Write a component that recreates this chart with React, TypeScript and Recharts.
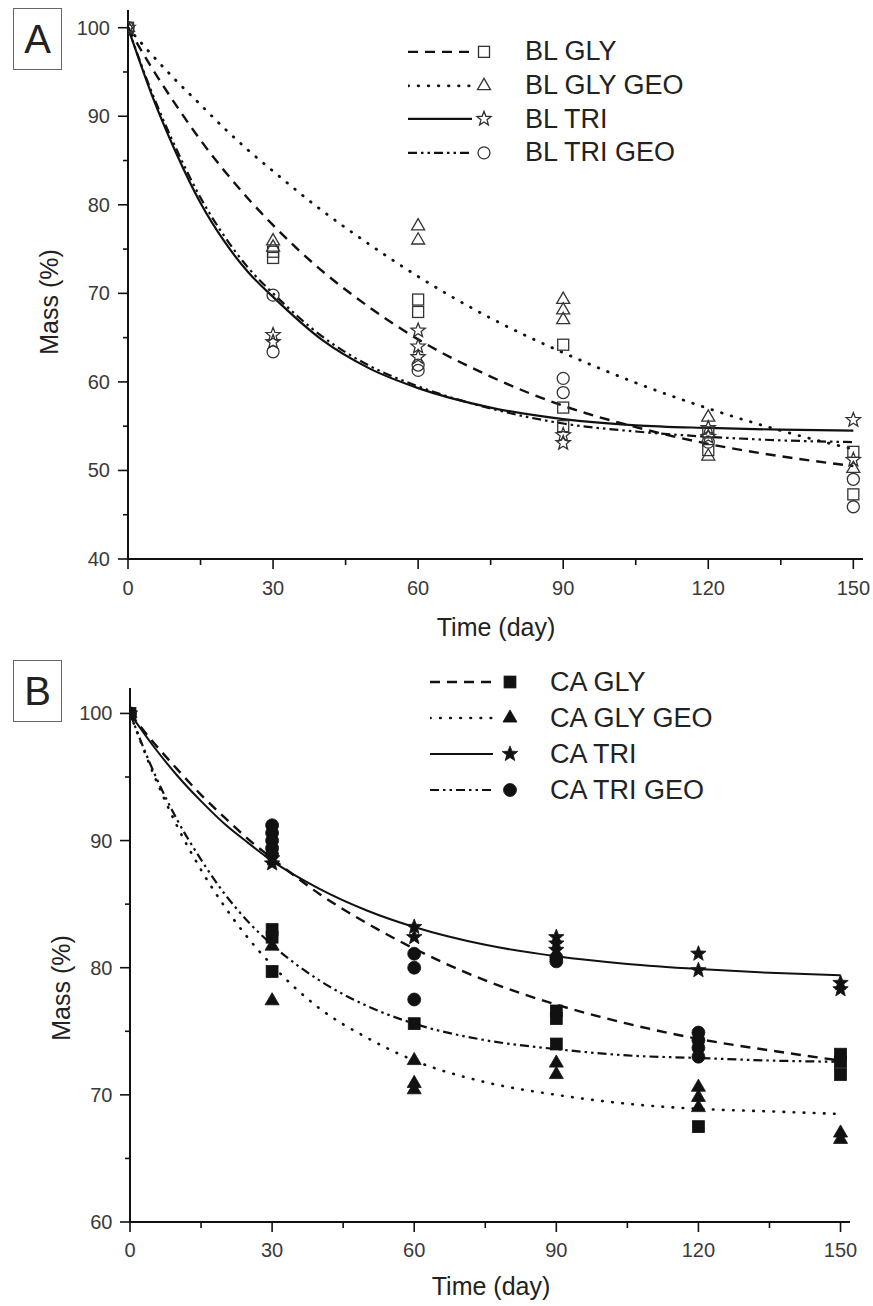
import React from "react";
import { ComposedChart, Line, Scatter, XAxis, YAxis, Legend } from "recharts";

const FONT = '"Liberation Sans", Arial, Helvetica, sans-serif';

const fitDays = [0, 5, 10, 15, 20, 25, 30, 40, 50, 60, 75, 90, 105, 120, 135, 150];

// panel A fitted curves (Mass %)
const blGlyFit = [100, 95.4, 91.2, 87.3, 83.8, 80.6, 77.7, 72.6, 68.4, 64.8, 60.6, 57.3, 54.9, 53.0, 51.6, 50.5];
const blGlyGeoFit = [100, 96.9, 94.0, 91.3, 88.6, 86.1, 83.8, 79.4, 75.5, 71.9, 67.2, 63.3, 59.9, 57.0, 54.5, 52.4];
const blTriFit = [100, 92.3, 85.8, 80.2, 75.8, 72.3, 69.6, 64.8, 61.5, 59.3, 57.1, 55.8, 55.1, 54.8, 54.6, 54.5];
const blTriGeoFit = [100, 92.6, 86.3, 80.8, 76.4, 72.8, 70.0, 65.2, 61.8, 59.5, 57.0, 55.3, 54.4, 53.8, 53.4, 53.2];

// panel A measured points [day, mass]
const blGlyPts = [[0, 100], [30, 74.7], [30, 74.0], [60, 69.3], [60, 67.9], [90, 64.2], [90, 57.1], [90, 55.0], [120, 54.3], [120, 52.3], [150, 52.1], [150, 47.3]];
const blGlyGeoPts = [[0, 100], [30, 75.9], [30, 75.2], [60, 77.6], [60, 76.0], [90, 69.3], [90, 68.1], [90, 67.0], [120, 56.0], [120, 51.6], [150, 50.2]];
const blTriPts = [[0, 100], [30, 65.3], [30, 64.5], [60, 65.8], [60, 64.0], [60, 62.8], [90, 54.0], [90, 53.1], [120, 54.8], [120, 53.8], [150, 55.7], [150, 51.2]];
const blTriGeoPts = [[0, 100], [30, 69.8], [30, 63.4], [60, 61.9], [60, 61.3], [90, 60.4], [90, 58.8], [120, 53.2], [150, 49.0], [150, 45.9]];

// panel B fitted curves
const caGlyFit = [100, 97.7, 95.6, 93.6, 91.8, 90.1, 88.6, 85.8, 83.5, 81.5, 79.0, 77.1, 75.6, 74.4, 73.5, 72.7];
const caGlyGeoFit = [100, 95.2, 91.1, 87.7, 84.8, 82.3, 80.2, 76.8, 74.5, 72.7, 71.0, 70.0, 69.3, 68.9, 68.7, 68.5];
const caTriFit = [100, 97.4, 95.1, 93.1, 91.3, 89.8, 88.4, 86.2, 84.5, 83.2, 81.8, 80.9, 80.3, 79.9, 79.6, 79.4];
const caTriGeoFit = [100, 95.4, 91.6, 88.5, 85.8, 83.6, 81.8, 79.0, 77.0, 75.6, 74.3, 73.6, 73.1, 72.9, 72.7, 72.6];

// panel B measured points
const caGlyPts = [[0, 100], [30, 83.0], [30, 82.4], [30, 79.7], [60, 75.6], [90, 76.6], [90, 76.0], [90, 74.0], [120, 67.5], [150, 73.2], [150, 72.6], [150, 71.6]];
const caGlyGeoPts = [[0, 100], [30, 81.7], [30, 77.4], [60, 72.7], [60, 70.9], [60, 70.4], [90, 72.5], [90, 71.6], [120, 70.6], [120, 69.8], [120, 69.0], [150, 67.0], [150, 66.5]];
const caTriPts = [[0, 100], [30, 88.6], [30, 88.2], [60, 83.2], [60, 82.4], [90, 82.4], [90, 81.9], [90, 81.4], [120, 81.1], [120, 79.8], [150, 78.8], [150, 78.3]];
const caTriGeoPts = [[0, 100], [30, 91.2], [30, 90.6], [30, 90.0], [30, 89.4], [30, 88.9], [60, 81.1], [60, 80.0], [60, 77.5], [90, 80.8], [90, 80.5], [120, 74.9], [120, 74.3], [120, 73.7], [120, 73.0]];

const xTicks = [0, 15, 30, 45, 60, 75, 90, 105, 120, 135, 150];
const yTicksA = [40, 45, 50, 55, 60, 65, 70, 75, 80, 85, 90, 95, 100];
const yTicksB = [60, 65, 70, 75, 80, 85, 90, 95, 100];

const fit = (vals: number[]) => fitDays.map((d, i) => ({ day: d, mass: vals[i] }));
const pts = (arr: number[][]) => arr.map(([d, m]) => ({ day: d, mass: m }));

const DASH = "10 7";
const DOT = "0.6 9.5";
const DASHDOTDOT = "9 4 2.5 4 2.5 4";

type Kind = "square" | "triangle" | "star" | "circle";

function Marker({ cx, cy, kind, filled }: { cx: number; cy: number; kind: Kind; filled: boolean }) {
  const fill = filled ? "#111" : "none";
  const stroke = filled ? "#111" : "#333";
  const sw = filled ? 0.8 : 1.3;
  const s = filled ? 1.08 : 1;
  if (kind === "square") {
    const h = 5.5 * s;
    return <rect x={cx - h} y={cy - h} width={2 * h} height={2 * h} fill={fill} stroke={stroke} strokeWidth={sw} />;
  }
  if (kind === "triangle") {
    const r = 7.5 * s;
    const p = `${cx},${cy - r} ${cx + r * 0.866},${cy + r * 0.5} ${cx - r * 0.866},${cy + r * 0.5}`;
    return <polygon points={p} fill={fill} stroke={stroke} strokeWidth={sw} />;
  }
  if (kind === "circle") {
    return <circle cx={cx} cy={cy} r={6 * s} fill={fill} stroke={stroke} strokeWidth={sw} />;
  }
  const ro = 7.5 * s;
  const ri = 3.2 * s;
  let d = "";
  for (let i = 0; i < 10; i++) {
    const r = i % 2 === 0 ? ro : ri;
    const a = -Math.PI / 2 + (i * Math.PI) / 5;
    d += `${i === 0 ? "M" : "L"}${cx + r * Math.cos(a)},${cy + r * Math.sin(a)}`;
  }
  return <path d={d + "Z"} fill={fill} stroke={stroke} strokeWidth={sw} />;
}

const shape = (kind: Kind, filled: boolean) => (p: any) => <Marker cx={p.cx} cy={p.cy} kind={kind} filled={filled} />;

const makeYTick = (labelGap: number) => (p: any) => {
  const { x, y, payload } = p;
  const major = payload.value % 10 === 0;
  return (
    <g>
      <line x1={x - (major ? 10 : 5)} x2={x} y1={y} y2={y} stroke="#111" strokeWidth={1.6} />
      {major && (
        <text x={x - labelGap} y={y + 7} textAnchor="end" fontSize={20} fill="#3a3a3a" fontFamily={FONT}>
          {payload.value}
        </text>
      )}
    </g>
  );
};

const makeXTick = (labelDy: number) => (p: any) => {
  const { x, y, payload } = p;
  const major = payload.value % 30 === 0;
  return (
    <g>
      <line x1={x} x2={x} y1={y} y2={y + (major ? 10 : 6)} stroke="#111" strokeWidth={1.6} />
      {major && (
        <text x={x} y={y + labelDy} textAnchor="middle" fontSize={20} fill="#3a3a3a" fontFamily={FONT}>
          {payload.value}
        </text>
      )}
    </g>
  );
};

interface SeriesCfg {
  name: string;
  fit: number[];
  points: number[][];
  dash?: string;
  width: number;
  cap?: "round" | "butt";
  kind: Kind;
}

const seriesA: SeriesCfg[] = [
  { name: "BL GLY", fit: blGlyFit, points: blGlyPts, dash: DASH, width: 2.4, kind: "square" },
  { name: "BL GLY GEO", fit: blGlyGeoFit, points: blGlyGeoPts, dash: DOT, width: 2.8, cap: "round", kind: "triangle" },
  { name: "BL TRI", fit: blTriFit, points: blTriPts, width: 2.2, kind: "star" },
  { name: "BL TRI GEO", fit: blTriGeoFit, points: blTriGeoPts, dash: DASHDOTDOT, width: 2.2, kind: "circle" },
];

const seriesB: SeriesCfg[] = [
  { name: "CA GLY", fit: caGlyFit, points: caGlyPts, dash: DASH, width: 2.4, kind: "square" },
  { name: "CA GLY GEO", fit: caGlyGeoFit, points: caGlyGeoPts, dash: DOT, width: 2.6, cap: "round", kind: "triangle" },
  { name: "CA TRI", fit: caTriFit, points: caTriPts, width: 2, kind: "star" },
  { name: "CA TRI GEO", fit: caTriGeoFit, points: caTriGeoPts, dash: DASHDOTDOT, width: 2.2, kind: "circle" },
];

const legendContent = (series: SeriesCfg[], filled: boolean, rowH: number, lineEnd: number, markX: number, swW: number) => () => (
  <div style={{ fontFamily: FONT, fontSize: 27, color: "#222" }}>
    {series.map((s) => (
      <div key={s.name} style={{ display: "flex", alignItems: "center", height: rowH }}>
        <svg width={swW} height={rowH} style={{ display: "block" }}>
          <line
            x1={0}
            x2={lineEnd}
            y1={rowH / 2}
            y2={rowH / 2}
            stroke="#111"
            strokeWidth={s.width}
            strokeDasharray={s.dash}
            strokeLinecap={s.cap || "butt"}
          />
          <Marker cx={markX} cy={rowH / 2} kind={s.kind} filled={filled} />
        </svg>
        <span style={{ whiteSpace: "nowrap" }}>{s.name}</span>
      </div>
    ))}
  </div>
);

interface PanelProps {
  series: SeriesCfg[];
  filled: boolean;
  height: number;
  marginTop: number;
  marginRight: number;
  yWidth: number;
  xHeight: number;
  yDomain: [number, number];
  yTicks: number[];
  yLabel: { x: number; y: number };
  xLabel: { x: number; y: number };
  xTickDy: number;
  yTickGap: number;
  legend: { left: number; top: number; rowH: number; lineEnd: number; markX: number; swW: number };
}

function Panel(p: PanelProps) {
  return (
    <ComposedChart width={873} height={p.height} margin={{ top: p.marginTop, right: p.marginRight, bottom: 0, left: 0 }}>
      <XAxis
        type="number"
        dataKey="day"
        domain={[0, 152]}
        ticks={xTicks}
        interval={0}
        allowDataOverflow
        height={p.xHeight}
        tickSize={0}
        tickMargin={0}
        tickLine={false}
        tick={makeXTick(p.xTickDy)}
        axisLine={{ stroke: "#111", strokeWidth: 2 }}
        label={{
          content: () => (
            <text x={p.xLabel.x} y={p.xLabel.y} textAnchor="middle" fontSize={25} fill="#222" fontFamily={FONT}>
              Time (day)
            </text>
          ),
        }}
      />
      <YAxis
        type="number"
        dataKey="mass"
        domain={p.yDomain}
        ticks={p.yTicks}
        interval={0}
        allowDataOverflow
        width={p.yWidth}
        tickSize={0}
        tickMargin={0}
        tickLine={false}
        tick={makeYTick(p.yTickGap)}
        axisLine={{ stroke: "#111", strokeWidth: 2 }}
        label={{
          content: () => (
            <text
              x={p.yLabel.x}
              y={p.yLabel.y}
              textAnchor="middle"
              fontSize={25}
              fill="#222"
              fontFamily={FONT}
              transform={`rotate(-90 ${p.yLabel.x} ${p.yLabel.y})`}
            >
              Mass (%)
            </text>
          ),
        }}
      />
      <Legend
        layout="vertical"
        verticalAlign="middle"
        align="center"
        wrapperStyle={{ left: p.legend.left, top: p.legend.top, width: 420 }}
        content={legendContent(p.series, p.filled, p.legend.rowH, p.legend.lineEnd, p.legend.markX, p.legend.swW)}
      />
      {p.series.map((s) => (
        <Line
          key={s.name + "-fit"}
          data={fit(s.fit)}
          dataKey="mass"
          name={s.name}
          type="monotone"
          stroke="#111"
          strokeWidth={s.width}
          strokeDasharray={s.dash}
          strokeLinecap={s.cap || "butt"}
          dot={false}
          activeDot={false}
          isAnimationActive={false}
        />
      ))}
      {p.series.map((s) => (
        <Scatter
          key={s.name + "-pts"}
          data={pts(s.points)}
          dataKey="mass"
          name={s.name + " data"}
          legendType="none"
          shape={shape(s.kind, p.filled)}
          isAnimationActive={false}
        />
      ))}
    </ComposedChart>
  );
}

const boxStyle: React.CSSProperties = {
  position: "absolute",
  left: 13,
  width: 49,
  height: 62,
  border: "1.5px solid #666",
  boxSizing: "border-box",
  display: "flex",
  alignItems: "center",
  justifyContent: "center",
  fontFamily: FONT,
  fontSize: 40,
  color: "#222",
  background: "#fff",
};

export default function App() {
  return (
    <div style={{ position: "relative", width: 873, height: 1306, background: "#fff", overflow: "hidden" }}>
      <style>{"body{margin:0;background:#fff}"}</style>
      <div style={{ position: "absolute", left: 0, top: 0 }}>
        <Panel
          series={seriesA}
          filled={false}
          height={660}
          marginTop={10}
          marginRight={10}
          yWidth={128}
          xHeight={101}
          yDomain={[40, 102]}
          yTicks={yTicksA}
          yLabel={{ x: 58, y: 302 }}
          xLabel={{ x: 496, y: 636 }}
          xTickDy={36}
          yTickGap={18}
          legend={{ left: 408, top: 35, rowH: 33.7, lineEnd: 64, markX: 76, swW: 117 }}
        />
      </div>
      <div style={{ position: "absolute", left: 0, top: 650 }}>
        <Panel
          series={seriesB}
          filled={true}
          height={656}
          marginTop={38}
          marginRight={23}
          yWidth={130}
          xHeight={84}
          yDomain={[60, 102]}
          yTicks={yTicksB}
          yLabel={{ x: 70, y: 338 }}
          xLabel={{ x: 491, y: 645 }}
          xTickDy={35}
          yTickGap={17.5}
          legend={{ left: 430, top: 14, rowH: 36, lineEnd: 63, markX: 80, swW: 120 }}
        />
      </div>
      <div style={{ ...boxStyle, top: 8 }}>A</div>
      <div style={{ ...boxStyle, top: 660 }}>B</div>
    </div>
  );
}
